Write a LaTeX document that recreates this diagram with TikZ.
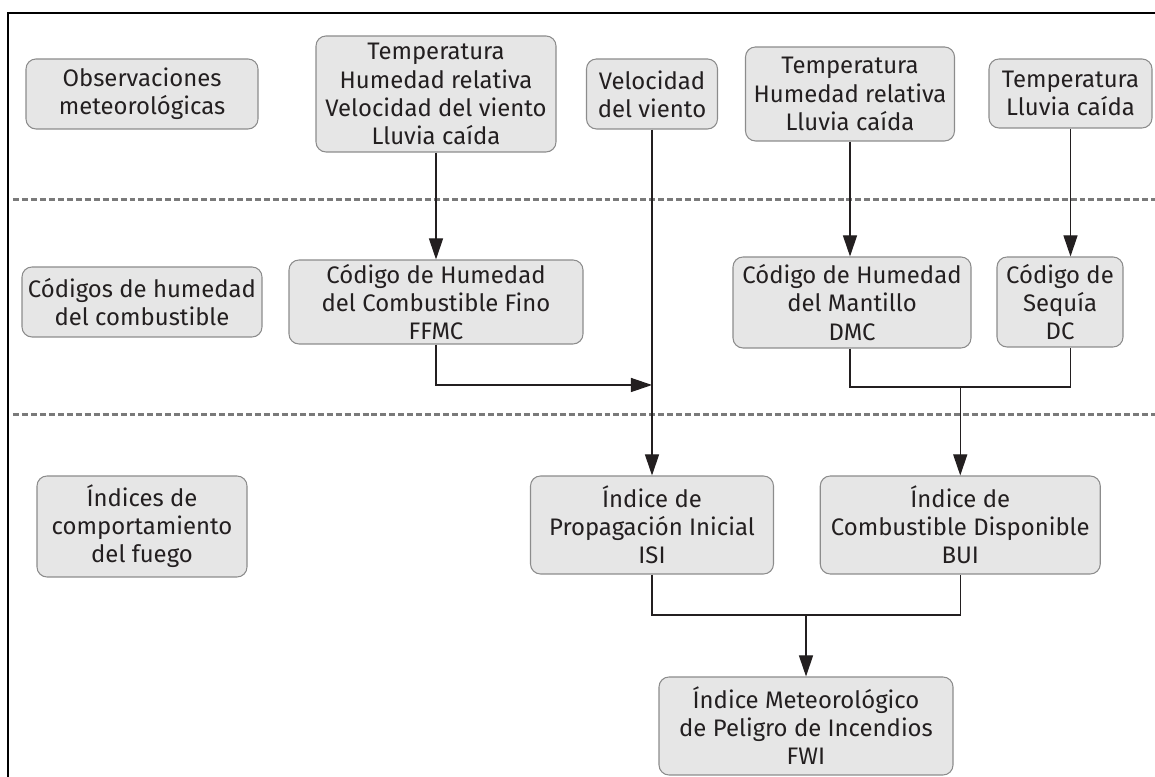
\documentclass[tikz,border=0pt]{standalone}
\usepackage{fontspec}
\setmainfont{Fira Sans}
\usetikzlibrary{arrows.meta, positioning, calc}
\definecolor{BoxFill}{HTML}{E6E6E6}
\definecolor{BoxLine}{HTML}{8C8C8C}
\definecolor{SepGray}{HTML}{7A7A7A}
\definecolor{Ink}{HTML}{231F20}

\begin{document}
\begin{tikzpicture}[
    box/.style={rectangle, rounded corners=0.2cm, draw=BoxLine, fill=BoxFill, line width=0.6pt, inner sep=0pt, align=center, text=Ink, font=\fontsize{13.6}{16}\selectfont},
    link/.style={line width=0.7pt, draw=Ink},
    arrow/.style={link, -{Triangle[length=12pt, width=8pt]}},
    sep/.style={line width=1.7pt, draw=SepGray, dash pattern=on 3.4pt off 1.7pt}
]
\useasboundingbox (0,0) rectangle (23.1,15.54);

% Frame and row separators
\draw[line width=1.2pt, black] (0.16,0) -- (0.16,15.28) -- (23.1,15.28);
\draw[sep] (0.26,11.54) -- (23.1,11.54);
\draw[sep] (0.26,7.24) -- (23.1,7.24);

% Row 1: weather observations
\node[box, minimum width=4.64cm, minimum height=1.40cm] (obs) at (2.84,13.66) {Observaciones\\meteorológicas};
\node[box, minimum width=4.80cm, minimum height=2.32cm] (tvhl) at (8.72,13.66) {Temperatura\\Humedad relativa\\Velocidad del viento\\Lluvia caída};
\node[box, minimum width=2.62cm, minimum height=1.40cm] (wind) at (13.04,13.66) {Velocidad\\del viento};
\node[box, minimum width=4.18cm, minimum height=1.88cm] (thl) at (17.00,13.66) {Temperatura\\Humedad relativa\\Lluvia caída};
\node[box, minimum width=3.26cm, minimum height=1.38cm] (tl) at (21.41,13.67) {Temperatura\\Lluvia caída};

% Row 2: fuel moisture codes
\node[box, minimum width=4.80cm, minimum height=1.40cm] (codes) at (2.84,9.50) {Códigos de humedad\\del combustible};
\node[box, minimum width=5.88cm, minimum height=1.68cm] (ffmc) at (8.72,9.50) {Código de Humedad\\del Combustible Fino\\FFMC};
\node[box, minimum width=4.76cm, minimum height=1.82cm] (dmc) at (17.04,9.49) {Código de Humedad\\del Mantillo\\DMC};
\node[box, minimum width=2.52cm, minimum height=1.80cm] (dc) at (21.20,9.50) {Código de\\Sequía\\DC};

% Row 3: fire behaviour indices
\node[box, minimum width=4.20cm, minimum height=2.02cm] (indices) at (2.84,5.01) {Índices de\\comportamiento\\del fuego};
\node[box, minimum width=4.86cm, minimum height=1.96cm] (isi) at (13.04,5.04) {Índice de\\Propagación Inicial\\ISI};
\node[box, minimum width=5.60cm, minimum height=1.96cm] (bui) at (19.205,5.04) {Índice de\\Combustible Disponible\\BUI};
\node[box, minimum width=5.88cm, minimum height=1.96cm] (fwi) at (16.12,1.02) {Índice Meteorológico\\de Peligro de Incendios\\FWI};

% Junction points
\coordinate (ffjoin) at (wind |- 0,7.84);
\coordinate (bujoin) at (bui.north |- 0,7.80);
\coordinate (fwjoin) at (fwi.north |- 0,3.24);

% Observations to codes
\draw[arrow] (tvhl.south) -- (ffmc.north);
\draw[arrow] (thl.south) -- (thl.south |- dmc.north);
\draw[arrow] (tl.south) -- (tl.south |- dc.north);

% Codes to indices
\draw[arrow] (wind.south) -- (isi.north);
\draw[arrow] (ffmc.south) |- (ffjoin);
\draw[link] (thl.south |- dmc.south) |- (bujoin) -| (tl.south |- dc.south);
\draw[arrow] (bujoin) -- (bui.north);

% Indices to FWI
\draw[link] (isi.south) |- (fwjoin) -| (bui.south);
\draw[arrow] (fwjoin) -- (fwi.north);
\end{tikzpicture}
\end{document}
